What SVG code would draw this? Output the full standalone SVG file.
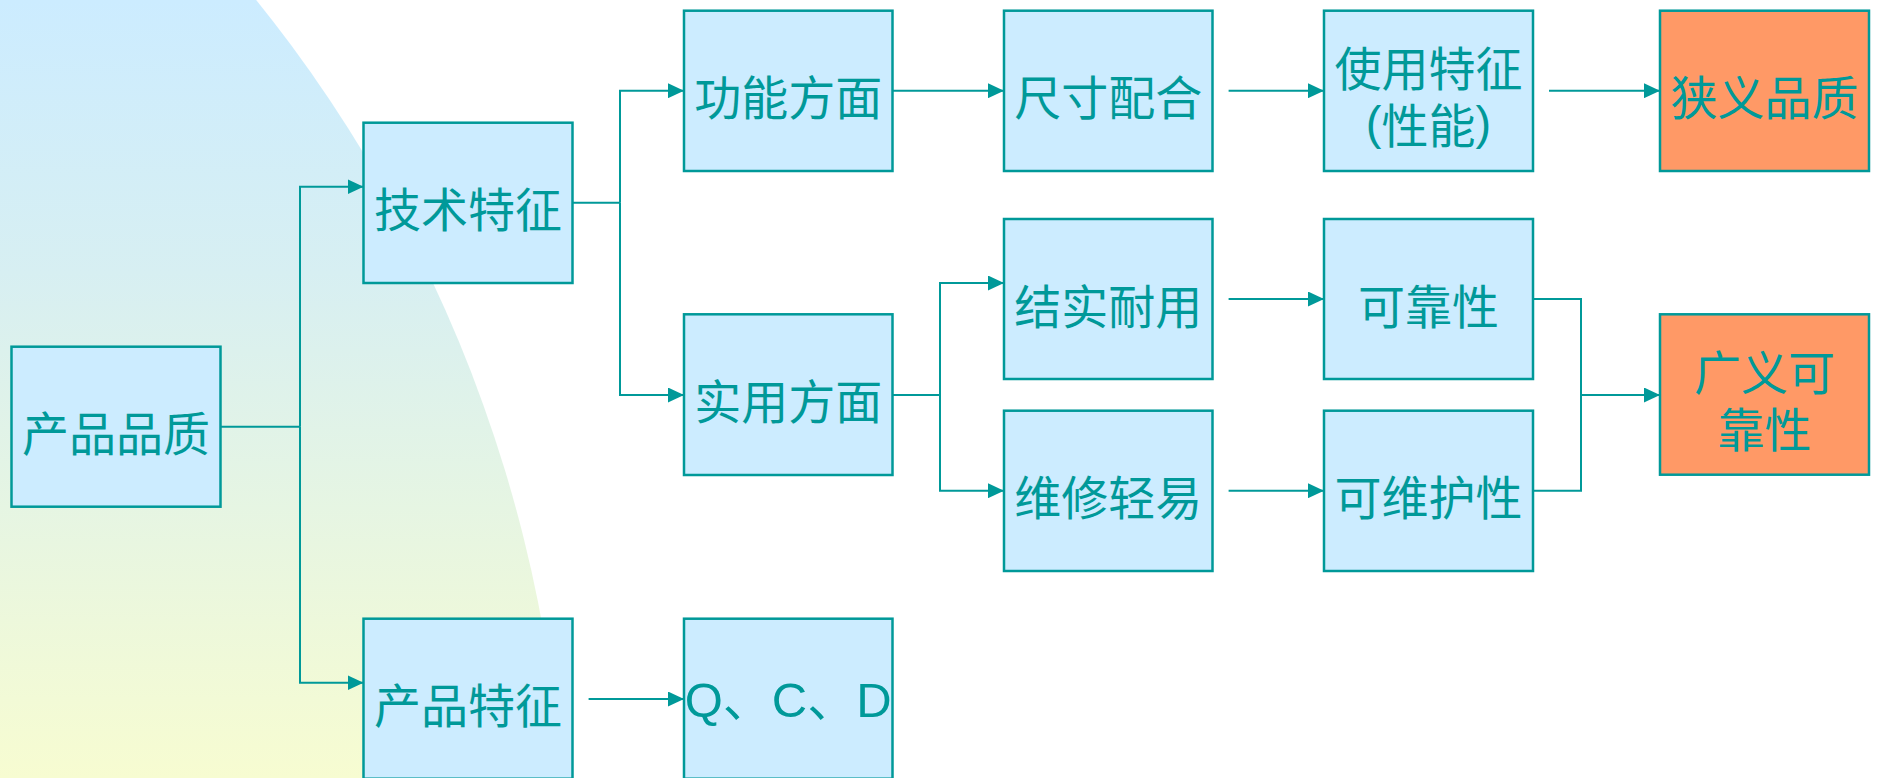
<svg xmlns="http://www.w3.org/2000/svg" width="1879" height="778" viewBox="0 0 1879 778">
  <defs>
    <linearGradient id="bg" x1="0" y1="0" x2="0" y2="778" gradientUnits="userSpaceOnUse">
      <stop offset="0" stop-color="#CCECFF"/>
      <stop offset="0.35" stop-color="#D7EFF2"/>
      <stop offset="1" stop-color="#F7FCD1"/>
    </linearGradient>
    <marker id="arr" viewBox="0 0 16 15" refX="16" refY="7.5" markerWidth="16" markerHeight="15" markerUnits="userSpaceOnUse" orient="auto">
      <path d="M0,0 L16,7.5 L0,15 Z" fill="#009999"/>
    </marker>
    <style>
      .box { fill: #CCECFF; stroke: #009999; stroke-width: 2.5; }
      .hot { fill: #FF9966; stroke: #009999; stroke-width: 2.5; }
      .t { font-family: "Noto Sans CJK SC", "Liberation Sans", sans-serif; font-size: 47px; fill: #009999; text-anchor: middle; dominant-baseline: central; }
      .q { font-family: "Liberation Sans", "Noto Sans CJK SC", sans-serif; font-size: 49px; fill: #009999; text-anchor: middle; dominant-baseline: central; }
      .c { fill: none; stroke: #009999; stroke-width: 2; }
      .a { marker-end: url(#arr); }
    </style>
  </defs>
  <rect width="1879" height="778" fill="#FFFFFF"/>
  <circle cx="-829" cy="875" r="1394" fill="url(#bg)"/>

  <g id="connectors">
    <path class="c" d="M220,426.7 H300"/>
    <path class="c a" d="M300,426.7 V186.7 H363.5"/>
    <path class="c a" d="M300,426.7 V682.7 H363.5"/>
    <path class="c" d="M572.5,202.7 H620"/>
    <path class="c a" d="M620,202.7 V90.7 H684"/>
    <path class="c a" d="M620,202.7 V395 H684"/>
    <path class="c a" d="M892.5,90.7 H1004"/>
    <path class="c a" d="M1228.6,90.7 H1324"/>
    <path class="c a" d="M1549,90.7 H1660"/>
    <path class="c" d="M892.5,395 H940"/>
    <path class="c a" d="M940,395 V283 H1004"/>
    <path class="c a" d="M940,395 V490.7 H1004"/>
    <path class="c a" d="M1228.6,299 H1324"/>
    <path class="c a" d="M1228.6,490.7 H1324"/>
    <path class="c" d="M1533,299 H1581 V490.7 H1533"/>
    <path class="c a" d="M1581,395 H1660"/>
    <path class="c a" d="M588.6,699 H684"/>
  </g>

  <g id="n-chanpinpinzhi">
    <rect class="box" x="11.5" y="346.7" width="209" height="160"/>
    <text class="t" x="116" y="430.7">产品品质</text>
  </g>
  <g id="n-jishutezheng">
    <rect class="box" x="363.5" y="122.7" width="209" height="160.3"/>
    <text class="t" x="468" y="206.7">技术特征</text>
  </g>
  <g id="n-chanpintezheng">
    <rect class="box" x="363.5" y="618.7" width="209" height="160"/>
    <text class="t" x="468" y="702.7">产品特征</text>
  </g>
  <g id="n-gongneng">
    <rect class="box" x="684" y="10.7" width="208.5" height="160.3"/>
    <text class="t" x="788.2" y="94.8">功能方面</text>
  </g>
  <g id="n-shiyong">
    <rect class="box" x="684" y="314.3" width="208.5" height="160.7"/>
    <text class="t" x="788.2" y="398.7">实用方面</text>
  </g>
  <g id="n-qcd">
    <rect class="box" x="684" y="618.7" width="208.5" height="160"/>
    <text class="q" x="788.2" y="700">Q、C、D</text>
  </g>
  <g id="n-chicun">
    <rect class="box" x="1004" y="10.7" width="208.5" height="160.3"/>
    <text class="t" x="1108.2" y="94.8">尺寸配合</text>
  </g>
  <g id="n-jieshi">
    <rect class="box" x="1004" y="219" width="208.5" height="160"/>
    <text class="t" x="1108.2" y="303">结实耐用</text>
  </g>
  <g id="n-weixiu">
    <rect class="box" x="1004" y="410.7" width="208.5" height="160.3"/>
    <text class="t" x="1108.2" y="494.8">维修轻易</text>
  </g>
  <g id="n-shiyongtezheng">
    <rect class="box" x="1324" y="10.7" width="209" height="160.3"/>
    <text class="t" x="1428.5" y="65"><tspan x="1428.5" y="65">使用特征</tspan><tspan x="1428.5" y="122"><tspan font-family="Liberation Sans, sans-serif">(</tspan>性能<tspan font-family="Liberation Sans, sans-serif">)</tspan></tspan></text>
  </g>
  <g id="n-kekaoxing">
    <rect class="box" x="1324" y="219" width="209" height="160"/>
    <text class="t" x="1428.5" y="303">可靠性</text>
  </g>
  <g id="n-keweihuxing">
    <rect class="box" x="1324" y="410.7" width="209" height="160.3"/>
    <text class="t" x="1428.5" y="494.8">可维护性</text>
  </g>
  <g id="n-xiayi">
    <rect class="hot" x="1660" y="10.7" width="209" height="160.3"/>
    <text class="t" x="1764.5" y="94.8">狭义品质</text>
  </g>
  <g id="n-guangyi">
    <rect class="hot" x="1660" y="314.3" width="209" height="160.4"/>
    <text class="t" x="1764.5" y="369"><tspan x="1764.5" y="369">广义可</tspan><tspan x="1764.5" y="426">靠性</tspan></text>
  </g>
</svg>
